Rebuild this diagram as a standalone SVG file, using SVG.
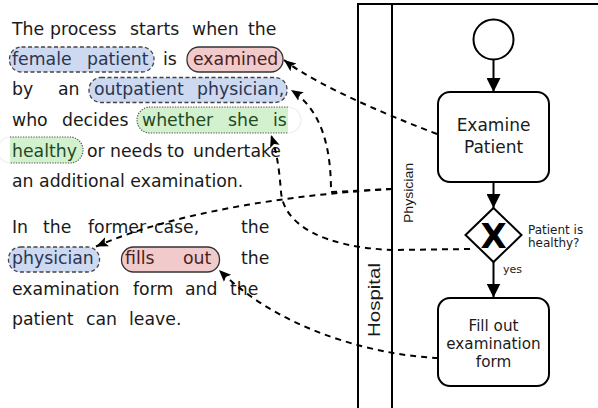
<svg xmlns="http://www.w3.org/2000/svg" width="598" height="408" viewBox="0 0 598 408">
<style>
.t{font-family:"DejaVu Sans",sans-serif;font-size:17.3px;fill:#1a1a1a}
.tb{fill:#2b3550}.tr{fill:#4a2222}.tg{fill:#1f4a1f}
.blue{fill:#cdd9f1;stroke:#444;stroke-width:1.3;stroke-dasharray:4 2.5}
.red{fill:#f1cbcb;stroke:#333;stroke-width:1.3}
.green{fill:#d3f1cf;stroke:none}
.gdot{fill:none;stroke:#555;stroke-width:1.2;stroke-dasharray:1.3 1.3}
.lane{fill:none;stroke:#000;stroke-width:2}
.task{fill:#fff;stroke:#000;stroke-width:2}
.tt{font-family:"DejaVu Sans",sans-serif;fill:#1a1a1a;text-anchor:middle}
.lab{font-family:"Liberation Sans",Arial,sans-serif;fill:#1a1a1a;text-anchor:middle}
.flow{fill:none;stroke:#000;stroke-width:2}
.assoc{fill:none;stroke:#000;stroke-width:2;stroke-dasharray:6 5}
</style>
<defs>
<marker id="seq" markerUnits="userSpaceOnUse" markerWidth="14" markerHeight="14" viewBox="0 0 12 12" refX="12" refY="6" orient="auto">
<path d="M0,0 L12,6 L0,12 Z" fill="#000"/>
</marker>
<marker id="dep" markerUnits="userSpaceOnUse" markerWidth="12" markerHeight="12" viewBox="0 0 12 10" refX="12" refY="5" orient="auto">
<path d="M0,0 L12,5 L0,10 L2.5,5 Z" fill="#000"/>
</marker>
</defs>

<g id="text">
<g id="highlights">
<rect class="blue" x="9.5" y="47" width="144.5" height="25" rx="12"/>
<rect class="red" x="187" y="47" width="96" height="25" rx="12"/>
<rect class="blue" x="89" y="77.5" width="198" height="25" rx="12"/>
<path class="green" d="M288,107 H150 A13,13 0 0 0 150,133 H288 Z"/>
<path class="gdot" d="M288,107 H150 A13,13 0 0 0 150,133 H288"/>
<path fill="none" stroke="#eee" stroke-width="1.2" d="M288,107 A13,13 0 0 1 288,133"/>
<path class="green" d="M10,137 H70 A13,13 0 0 1 70,163 H10 Z"/>
<path class="gdot" d="M10,137 H70 A13,13 0 0 1 70,163 H10"/>
<path fill="none" stroke="#eee" stroke-width="1.2" d="M10,137 A12,13 0 0 0 10,163"/>
<rect class="blue" x="8.5" y="247" width="91" height="25" rx="12"/>
<rect class="red" x="121.5" y="247" width="98" height="25" rx="12"/>
</g>
<text class="t" y="35"><tspan x="12">The</tspan><tspan x="50">process</tspan><tspan x="130">starts</tspan><tspan x="192">when</tspan><tspan x="248">the</tspan></text>
<text class="t" y="65"><tspan class="tb" x="12">female</tspan><tspan class="tb" x="87">patient</tspan><tspan x="163">is</tspan><tspan class="tr" x="193">examined</tspan></text>
<text class="t" y="95"><tspan x="12">by</tspan><tspan x="58">an</tspan><tspan class="tb" x="94">outpatient</tspan><tspan class="tb" x="197">physician,</tspan></text>
<text class="t" y="126"><tspan x="12">who</tspan><tspan x="62">decides</tspan><tspan class="tg" x="142">whether</tspan><tspan class="tg" x="228">she</tspan><tspan class="tg" x="273">is</tspan></text>
<text class="t" y="157"><tspan class="tg" x="12">healthy</tspan><tspan x="87">or</tspan><tspan x="110">needs</tspan><tspan x="167">to</tspan><tspan x="193">undertake</tspan></text>
<text class="t" x="12" y="187">an additional examination.</text>
<text class="t" y="233"><tspan x="12">In</tspan><tspan x="43">the</tspan><tspan x="88">former</tspan><tspan x="154">case,</tspan><tspan x="241">the</tspan></text>
<text class="t" y="264"><tspan class="tb" x="12">physician</tspan><tspan class="tr" x="125">fills</tspan><tspan class="tr" x="183">out</tspan><tspan x="241">the</tspan></text>
<text class="t" y="295"><tspan x="12">examination</tspan><tspan x="133">form</tspan><tspan x="185">and</tspan><tspan x="230">the</tspan></text>
<text class="t" y="325"><tspan x="12">patient</tspan><tspan x="86">can</tspan><tspan x="129">leave.</tspan></text>
</g>

<g id="pool">
<path class="lane" d="M358,408 V4 H598 M392,4 V408"/>
<text class="lab" font-size="17" textLength="74" lengthAdjust="spacingAndGlyphs" transform="translate(379.5,300) rotate(-90)">Hospital</text>
<text class="lab" font-size="13" textLength="60" lengthAdjust="spacingAndGlyphs" transform="translate(412.5,193) rotate(-90)">Physician</text>
</g>

<g id="start">
<circle cx="493.5" cy="39.5" r="20" fill="#fff" stroke="#000" stroke-width="2"/>
</g>
<g id="examine">
<rect class="task" x="438" y="92" width="111" height="90" rx="12"/>
<text class="tt" font-size="17" x="493.5" y="131">Examine</text>
<text class="tt" font-size="17" x="493.5" y="152.5">Patient</text>
</g>
<g id="gateway">
<path d="M493.5,208 L521.5,235 L493.5,262 L465.5,235 Z" fill="#fff" stroke="#000" stroke-width="2"/>
<text x="493.5" y="247.5" font-family="DejaVu Sans,sans-serif" font-weight="bold" font-size="34" text-anchor="middle" fill="#000">X</text>
<text font-family="DejaVu Sans,sans-serif" font-size="12" fill="#1a1a1a"><tspan x="528" y="233.5">Patient is</tspan><tspan x="528" y="247">healthy?</tspan></text>
</g>
<g id="fillout">
<rect class="task" x="438" y="298" width="111" height="88" rx="12"/>
<text class="tt" font-size="15.2" x="493.5" y="331">Fill out</text>
<text class="tt" font-size="15.2" x="493.5" y="349">examination</text>
<text class="tt" font-size="15.2" x="493.5" y="366.5">form</text>
</g>

<g id="connectors">
<path class="flow" marker-end="url(#seq)" d="M493.5,59.5 V92"/>
<path class="flow" marker-end="url(#seq)" d="M493.5,182 V208"/>
<path class="flow" marker-end="url(#seq)" d="M493.5,262 V297.5"/>
<text x="503" y="273" font-family="DejaVu Sans,sans-serif" font-size="11" fill="#1a1a1a">yes</text>
<path class="assoc" marker-end="url(#dep)" d="M437,134 C405,122 320,88 284,60"/>
<path class="assoc" marker-end="url(#dep)" d="M392,189 L331,192 C331,155 325,112 291,90"/>
<path class="assoc" marker-end="url(#dep)" d="M392,189 C300,194 180,210 96,246.5"/>
<path class="assoc" marker-end="url(#dep)" d="M470,249 L392,250 C325,247 284,226 281,192 C279,165 276,150 271,135"/>
<path class="assoc" marker-end="url(#dep)" d="M438,358 C385,356 285,335 219,270"/>
</g>
</svg>
